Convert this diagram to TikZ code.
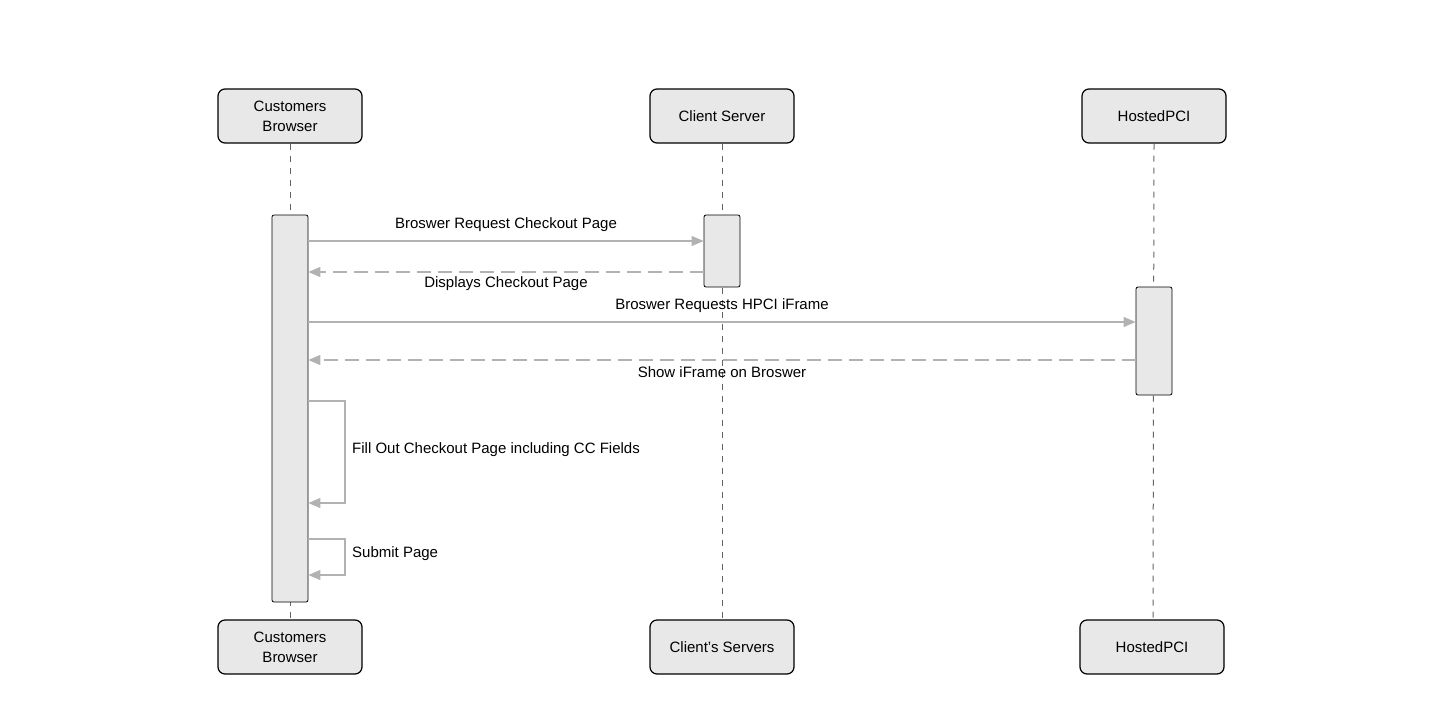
\documentclass[tikz,border=0pt]{standalone}
\usepackage{fontspec}
\setmainfont{Liberation Sans}
\usetikzlibrary{arrows.meta}
\begin{document}
\begin{tikzpicture}[x=1pt,y=-1pt,
 box/.style={draw=black,line width=1.2pt,fill=gray!18,rounded corners=7pt,minimum width=144pt,minimum height=54pt,align=center,font=\fontsize{15}{20}\selectfont,inner sep=0pt},
 bar/.style={draw=black,line width=0.8pt,fill=gray!18,rounded corners=2pt,minimum width=36pt,inner sep=0pt},
 life/.style={draw=gray!80!black,line width=1pt,dash pattern=on 6pt off 6pt},
 msg/.style={draw=gray!60,line width=1.3pt,-{Triangle[length=12pt,width=10pt]}},
 ret/.style={msg,dash pattern=on 14pt off 7pt},
 lbl/.style={font=\fontsize{15}{18}\selectfont,inner sep=0pt}]
\useasboundingbox (0,0) rectangle (1436,710);
\node[box] (cbt) at (290,116) {Customers\\Browser};
\node[box] (cst) at (722,116) {Client Server};
\node[box] (hpt) at (1154,116) {HostedPCI};
\node[box] (cbb) at (290,647) {Customers\\Browser};
\node[box] (csb) at (722,647) {Client's Servers};
\node[box] (hpb) at (1152,647) {HostedPCI};
\draw[life] (cbt.south) -- (cbb.north);
\draw[life] (cst.south) -- (csb.north);
\draw[life] (hpt.south) -- (1153,620) -- (hpb.north);
\node[bar,minimum height=387pt] (cba) at (290,408.5) {};
\node[bar,minimum height=72pt] (csa) at (722,251) {};
\node[bar,minimum height=108pt] (hpa) at (1154,341) {};
\coordinate (a1) at (cba.east |- 0,241); \coordinate (b1) at (csa.west |- 0,241);
\coordinate (a2) at (cba.east |- 0,272); \coordinate (b2) at (csa.west |- 0,272);
\coordinate (a3) at (cba.east |- 0,322); \coordinate (b3) at (hpa.west |- 0,322);
\coordinate (a4) at (cba.east |- 0,360); \coordinate (b4) at (hpa.west |- 0,360);
\draw[msg] (a1) -- (b1);
\draw[ret] (b2) -- (a2);
\draw[msg] (a3) -- (b3);
\draw[ret] (b4) -- (a4);
\node[lbl] at (506,225) {Broswer Request Checkout Page};
\node[lbl] at (506,284) {Displays Checkout Page};
\node[lbl] at (722,306) {Broswer Requests HPCI iFrame};
\node[lbl] at (722,372) {Show iFrame on Broswer};
\coordinate (s1) at (cba.east |- 0,401); \coordinate (e1) at (cba.east |- 0,503);
\coordinate (s2) at (cba.east |- 0,539); \coordinate (e2) at (cba.east |- 0,575);
\draw[msg] (s1) -- (345,401) -- (345,503) -- (e1);
\draw[msg] (s2) -- (345,539) -- (345,575) -- (e2);
\node[lbl,anchor=west] at (352,450) {Fill Out Checkout Page including CC Fields};
\node[lbl,anchor=west] at (352,554) {Submit Page};
\end{tikzpicture}
\end{document}
